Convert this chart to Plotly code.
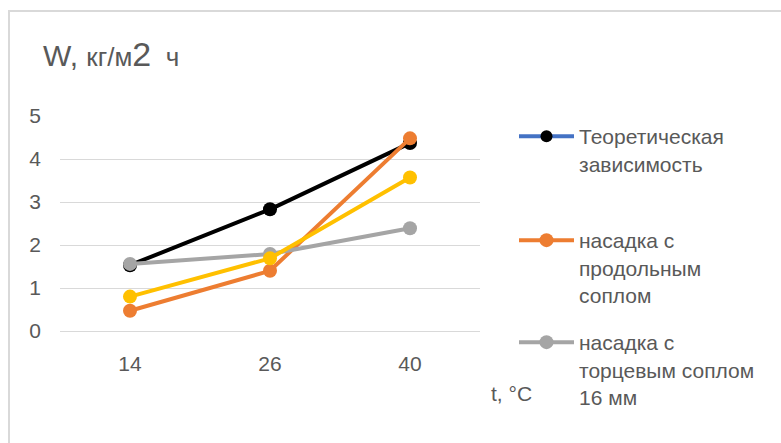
import plotly.graph_objects as go

# temperatures, °C (category axis)
temps = ["14", "26", "40"]

# moisture removal rate W, kg/(m2·h)
theory = [1.53, 2.83, 4.37]
longitudinal = [0.47, 1.40, 4.48]
end_nozzle = [1.56, 1.79, 2.39]
extra_series = [0.80, 1.69, 3.57]

y_ticks = [0, 1, 2, 3, 4, 5]

FONT = "Liberation Sans"
TXT = "#595959"
GRID = "#d9d9d9"

W, H = 781, 443
L, R, T, B = 60, 301, 116, 112

fig = go.Figure()

# theoretical curve: black line in the plot, blue line in the legend
fig.add_trace(go.Scatter(
    x=temps, y=theory, mode="lines+markers", showlegend=False,
    line=dict(color="#000000", width=4),
    marker=dict(color="#000000", size=14),
))
fig.add_trace(go.Scatter(
    x=[None], y=[None], mode="lines+markers", name="Теоретическая<br>зависимость",
    legend="legend",
    line=dict(color="#4472C4", width=4),
    marker=dict(color="#000000", size=12),
))
fig.add_trace(go.Scatter(
    x=temps, y=longitudinal, mode="lines+markers",
    name="насадка с<br>продольным<br>соплом", legend="legend2",
    line=dict(color="#ED7D31", width=4),
    marker=dict(color="#ED7D31", size=14),
))
fig.add_trace(go.Scatter(
    x=temps, y=end_nozzle, mode="lines+markers",
    name="насадка с<br>торцевым соплом<br>16 мм", legend="legend3",
    line=dict(color="#A5A5A5", width=4),
    marker=dict(color="#A5A5A5", size=14),
))
fig.add_trace(go.Scatter(
    x=temps, y=extra_series, mode="lines+markers", showlegend=False,
    line=dict(color="#FFC000", width=4),
    marker=dict(color="#FFC000", size=14),
))


def leg(px_x, px_y):
    return dict(
        x=px_x / W, y=1 - px_y / H, xref="container", yref="container",
        xanchor="left", yanchor="top", valign="top",
        bgcolor="rgba(0,0,0,0)", borderwidth=0, itemwidth=55,
        font=dict(family=FONT, size=21, color=TXT),
    )


def px_x(p):
    return (p - L) / (W - L - R)


def px_y(p):
    return (H - B - p) / (H - T - B)


fig.update_layout(
    width=W, height=H,
    margin=dict(l=L, r=R, t=T, b=B, pad=0),
    paper_bgcolor="white", plot_bgcolor="white",
    font=dict(family=FONT, color=TXT, size=21),
    legend=leg(514, 116),
    legend2=leg(514, 220),
    legend3=leg(514, 322),
    xaxis=dict(
        type="category", range=[-0.5, 2.5], showgrid=False, zeroline=False,
        showline=False, ticks="", ticklabelstandoff=18,
        tickfont=dict(family=FONT, size=21, color=TXT),
    ),
    yaxis=dict(
        range=[0, 5], tickvals=y_ticks, showgrid=True, gridcolor=GRID, gridwidth=1,
        zeroline=True, zerolinecolor=GRID, zerolinewidth=1, showline=False,
        ticks="", ticklabelstandoff=18,
        tickfont=dict(family=FONT, size=21, color=TXT),
    ),
    shapes=[dict(
        type="rect", xref="paper", yref="paper",
        x0=px_x(9), x1=px_x(900), y0=px_y(600), y1=px_y(11),
        line=dict(color=GRID, width=2), fillcolor="rgba(0,0,0,0)", layer="below",
    )],
    annotations=[
        dict(
            text=("<span style='font-size:30px'>W, </span>кг/м"
                  "<span style='font-size:34px'>2</span>  ч"),
            xref="paper", yref="paper", x=px_x(41), y=px_y(75),
            xanchor="left", yanchor="bottom", showarrow=False,
            font=dict(family=FONT, size=26, color=TXT),
        ),
        dict(
            text="t, °C", xref="paper", yref="paper", x=px_x(489), y=px_y(393),
            xanchor="left", yanchor="middle", showarrow=False,
            font=dict(family=FONT, size=21, color=TXT),
        ),
    ],
)

fig.write_html("out.html")
